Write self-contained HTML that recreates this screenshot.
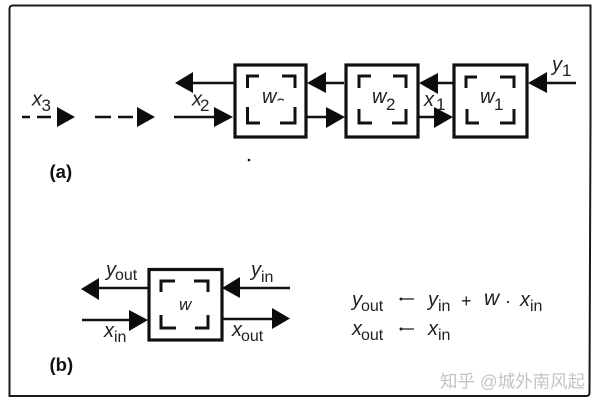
<!DOCTYPE html>
<html>
<head>
<meta charset="utf-8">
<style>
html,body{margin:0;padding:0;background:#fff;width:600px;height:406px;overflow:hidden}
svg{display:block}
text{font-family:"Liberation Sans","Noto Sans CJK SC",sans-serif;fill:#222}
.i{font-style:italic;font-size:20px}
.s{font-size:16px}
.n{font-size:17px}
.b{font-size:18.500px;font-weight:bold;fill:#111}
</style>
</head>
<body>
<svg width="600" height="406" viewBox="0 0 600 406" xmlns="http://www.w3.org/2000/svg">
<rect width="600" height="406" fill="#fff"/>

<!-- outer frame -->
<path d="M9.500 102 L9.500 9 Q9.500 5.500 13 5.500 L590.500 5.500 L590.500 120 L589.500 393 Q589.500 396 586 396 L12 396 L9.500 396 Z" fill="none" stroke="#1a1a1a" stroke-width="2"/>

<g fill="none" stroke="#111" stroke-width="3.200">
  <rect x="235" y="65" width="71" height="72"/>
  <rect x="346" y="65" width="72" height="72"/>
  <rect x="454" y="65" width="73" height="72"/>
  <rect x="149" y="269.500" width="73" height="70.500"/>
</g>

<!-- corner brackets -->
<g fill="none" stroke="#111" stroke-width="3">
  <path d="M247.500 88 V76 H259 M282 76 H295 V88 M247.500 107 V123 H260 M280 123 H295 V107"/>
  <path d="M359 88 V76 H371 M393 76 H406 V88 M359 109 V123 H372 M392 123 H406 V109"/>
  <path d="M466 88 V77 H477 M500 77 H514 V88 M467 109 V123 H479 M500 123 H514 V109"/>
  <path d="M161 292 V281 H175 M194 281 H208 V292 M161 315 V328 H176 M195 328 H208 V315"/>
</g>

<!-- lines -->
<g fill="none" stroke="#111" stroke-width="2.600">
  <path d="M190 83 H234 M174 117 H216 M326 83 H344 M306 117 H328 M436 83 H453 M418 117 H436 M545 83 H576"/>
  <path d="M97 288 H148 M82 320 H131 M238 288 H290 M222 319 H274"/>
  <path d="M22 117 H30 M37 117 H51 M95 117 H111 M118 117 H133"/>
</g>

<!-- arrowheads -->
<g fill="#0c0c0c">
  <polygon points="175,83 193,72 193,93"/>
  <polygon points="57,107 75,117 57,127"/>
  <polygon points="137,107 155,117 137,127"/>
  <polygon points="214,107 233,117 214,127"/>
  <polygon points="307,83 326,72 326,93"/>
  <polygon points="326,107 345,117 326,128"/>
  <polygon points="419,83 438,73 438,94"/>
  <polygon points="434,107 453,117 434,128"/>
  <polygon points="528,83 547,72 547,93"/>
  <polygon points="81,289 99,278 99,300"/>
  <polygon points="129,310 148,320 129,331"/>
  <polygon points="222,288 240,277 240,298"/>
  <polygon points="272,308 290,318.500 272,329"/>
  <circle cx="249" cy="160" r="1.300"/>
</g>

<!-- labels part a -->
<text class="i" x="32" y="105.500">x</text><text class="n" x="41.500" y="111">3</text>
<text class="i" x="192" y="105.500">x</text><text class="n" x="200" y="111">2</text>
<text class="i" x="262" y="103">w</text><text class="n" x="276" y="110">2</text>
<rect x="275" y="100.500" width="12" height="12" fill="#fff"/>
<text class="i" x="372" y="103">w</text><text class="n" x="386" y="110">2</text>
<text class="i" x="424" y="106">x</text><text class="n" x="436" y="110">1</text>
<text class="i" x="480" y="103">w</text><text class="n" x="494" y="110">1</text>
<text class="i" x="552" y="71">y</text><text class="n" x="562" y="76">1</text>
<text class="b" x="49.500" y="178">(a)</text>

<!-- labels part b -->
<text class="i" x="106" y="276">y</text><text class="s" x="115" y="280">out</text>
<text class="i" x="251" y="276">y</text><text class="s" x="261" y="282">in</text>
<text class="i" x="104" y="337">x</text><text class="s" x="114" y="342">in</text>
<text class="i" x="232" y="336">x</text><text class="s" x="241" y="341">out</text>
<text class="i" style="font-size:17px" x="179" y="310">w</text>
<text class="b" x="49.500" y="371">(b)</text>

<!-- equations -->
<text class="i" x="352" y="306">y</text><text class="s" x="361" y="311">out</text>
<path d="M400 299 H414" stroke="#222" stroke-width="1.300"/>
<circle cx="401" cy="299" r="1.500" fill="#222"/>
<text class="i" x="428" y="306">y</text><text class="s" x="438" y="311">in</text>
<text x="461" y="307" style="font-size:18px">+</text>
<text class="i" style="font-size:21px" x="484" y="305">w</text>
<circle cx="508" cy="302" r="1.100" fill="#222"/>
<text class="i" x="520" y="306">x</text><text class="s" x="530" y="311">in</text>

<text class="i" x="352" y="335">x</text><text class="s" x="361" y="340">out</text>
<path d="M400 329 H414" stroke="#222" stroke-width="1.300"/>
<circle cx="401" cy="329" r="1.500" fill="#222"/>
<text class="i" x="428" y="335">x</text><text class="s" x="438" y="340">in</text>

<!-- watermark -->
<text x="440" y="387.500" style="font-size:17.500px;fill:#c4c4c4">知乎 @城外南风起</text>
</svg>
</body>
</html>
